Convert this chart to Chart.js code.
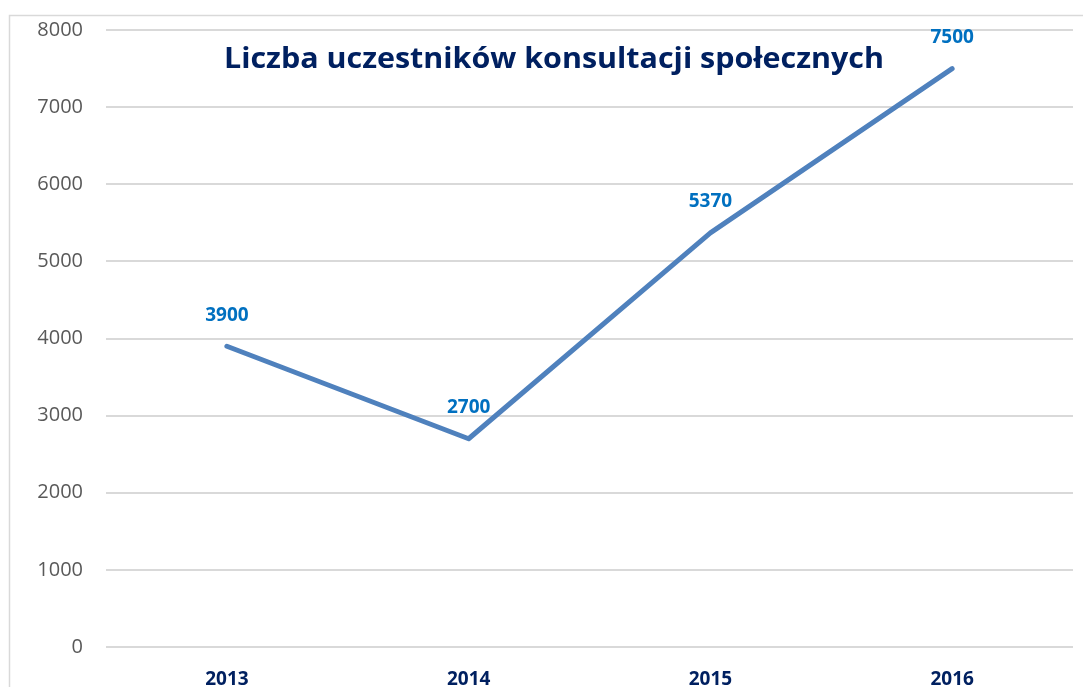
<!DOCTYPE html>
<html>
<head>
<meta charset="utf-8">
<script src="https://cdn.jsdelivr.net/npm/chart.js@4"></script>
<style>
  html, body { margin: 0; padding: 0; background: #fff; }
  #wrap { width: 1083px; height: 687px; }
</style>
</head>
<body>
<div id="wrap"><canvas id="myChart" width="1083" height="687"></canvas></div>
<script>
// chart data
const years = ['2013', '2014', '2015', '2016'];
const participants = [3900, 2700, 5370, 7500];
const yTicks = [0, 1000, 2000, 3000, 4000, 5000, 6000, 7000, 8000];
const chartTitle = 'Liczba uczestników konsultacji społecznych';

// frame around the chart + title inside the plot
const framePlugin = {
    id: 'frame',
    beforeDraw(chart) {
        const c = chart.ctx;
        c.save();
        c.strokeStyle = '#d9d9d9';
        c.lineWidth = 1.5;
        c.beginPath();
        c.moveTo(9.5, 700);
        c.lineTo(9.5, 15.5);
        c.lineTo(1100, 15.5);
        c.stroke();
        c.restore();
    },
    afterDraw(chart) {
        const c = chart.ctx;
        c.save();
        c.font = 'bold 28px "Open Sans", sans-serif';
        c.fillStyle = '#002060';
        c.textBaseline = 'middle';
        const w = c.measureText(chartTitle).width;
        const target = 660;
        c.translate(554, 60);
        c.scale(target / w, 1);
        c.textAlign = 'center';
        c.fillText(chartTitle, 0, 0);
        c.restore();
    }
};

// value labels above points
const labelsPlugin = {
    id: 'valueLabels',
    afterDatasetsDraw(chart) {
        const c = chart.ctx;
        const meta = chart.getDatasetMeta(0);
        c.save();
        c.font = 'bold 19px "Open Sans", sans-serif';
        c.fillStyle = '#0070c0';
        c.textAlign = 'center';
        c.textBaseline = 'middle';
        meta.data.forEach((pt, i) => {
            c.fillText(String(participants[i]), pt.x, pt.y - 31);
        });
        c.restore();
    }
};

var ctx = document.getElementById('myChart').getContext('2d');
var myChart = new Chart(ctx, {
    type: 'line',
    data: {
        labels: years,
        datasets: [{
            data: participants,
            borderColor: '#4f81bd',
            borderWidth: 5,
            borderCapStyle: 'round',
            borderJoinStyle: 'round',
            pointRadius: 0,
            tension: 0
        }]
    },
    options: {
        responsive: false,
        animation: false,
        layout: { padding: { top: 30, right: 10, left: 0, bottom: 0 } },
        plugins: {
            legend: { display: false },
            tooltip: { enabled: false },
            title: { display: false }
        },
        scales: {
            x: {
                offset: true,
                grid: { display: false },
                border: { display: false },
                ticks: {
                    color: '#002060',
                    font: { family: '"Open Sans", sans-serif', size: 19, weight: 'bold' },
                    padding: 13
                },
                afterFit(scale) { scale.height = 40; }
            },
            y: {
                min: 0,
                max: 8000,
                afterBuildTicks(scale) { scale.ticks = yTicks.map(v => ({ value: v })); },
                grid: { color: '#d9d9d9', lineWidth: 2, drawTicks: false },
                border: { display: false },
                ticks: {
                    color: '#595959',
                    font: { family: '"Open Sans", sans-serif', size: 20 },
                    padding: 23,
                    callback: (v) => String(v)
                },
                afterFit(scale) {
                    scale.width = 106;
                    scale.paddingTop = 0;
                    scale.paddingBottom = 0;
                }
            }
        }
    },
    plugins: [framePlugin, labelsPlugin]
});
</script>
</body>
</html>
